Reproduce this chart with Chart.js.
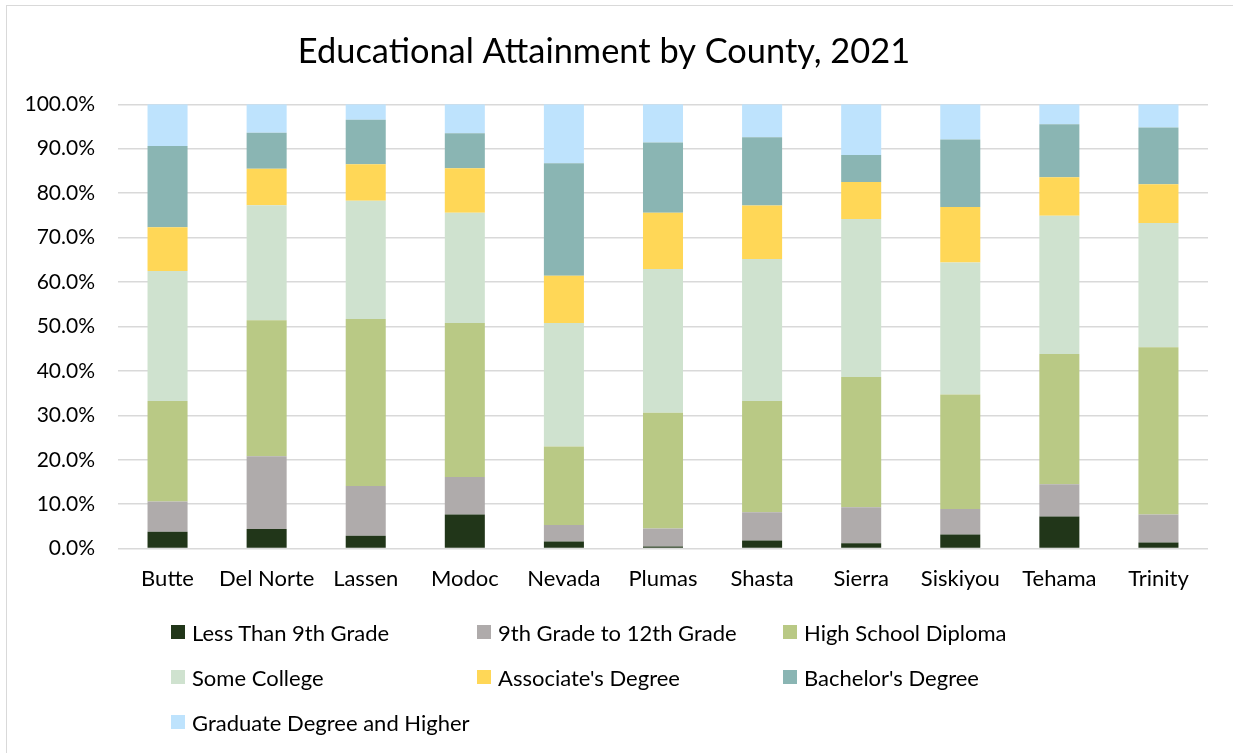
<!DOCTYPE html>
<html>
<head>
<meta charset="utf-8">
<script src="https://cdn.jsdelivr.net/npm/chart.js@4/dist/chart.umd.min.js"></script>
<style>
  html, body { margin: 0; padding: 0; background: #fff; }
  #wrap { position: relative; width: 1233px; height: 753px; overflow: hidden; }
  #frame { position: absolute; left: 6px; top: 5px; width: 1240px; height: 760px; border: 1px solid #d9d9d9; box-sizing: border-box; }
  #edu-chart { position: absolute; left: 0; top: 0; }
  #legend { position: absolute; left: 0; top: 0; font-family: Lato, sans-serif; font-size: 22px; color: #000; }
  .item { position: absolute; display: flex; align-items: center; white-space: nowrap; height: 26px; }
  .box { width: 14px; height: 14px; margin-right: 7px; }
</style>
</head>
<body>
<div id="wrap">
  <div id="frame"></div>
  <canvas id="edu-chart" width="1233" height="753"></canvas>
  <div id="legend"></div>
</div>
<script>
let counties = ["Butte", "Del Norte", "Lassen", "Modoc", "Nevada", "Plumas", "Shasta", "Sierra", "Siskiyou", "Tehama", "Trinity"];

let lessThan9th = [3.8, 4.4, 2.9, 7.7, 1.6, 0.5, 1.8, 1.2, 3.2, 7.2, 1.4];
let grade9to12 = [6.8, 16.4, 11.2, 8.4, 3.7, 4.0, 6.4, 8.1, 5.7, 7.3, 6.3];
let highSchool = [22.6, 30.6, 37.6, 34.7, 17.7, 26.1, 25.0, 29.3, 25.8, 29.3, 37.6];
let someCollege = [29.3, 25.9, 26.6, 24.8, 27.8, 32.3, 32.0, 35.6, 29.7, 31.1, 28.0];
let associates = [9.8, 8.2, 8.2, 10.0, 10.6, 12.7, 12.0, 8.3, 12.5, 8.7, 8.7];
let bachelors = [18.3, 8.1, 10.0, 7.9, 25.3, 15.8, 15.4, 6.1, 15.2, 11.9, 12.8];
let graduate = [9.4, 6.4, 3.5, 6.5, 13.3, 8.6, 7.4, 11.4, 7.9, 4.5, 5.2];

let seriesNames = [
  "Less Than 9th Grade",
  "9th Grade to 12th Grade",
  "High School Diploma",
  "Some College",
  "Associate's Degree",
  "Bachelor's Degree",
  "Graduate Degree and Higher",
];
let seriesValues = [lessThan9th, grade9to12, highSchool, someCollege, associates, bachelors, graduate];
let seriesColors = ["#213619", "#afabab", "#b9c985", "#cfe2cf", "#ffd757", "#8ab5b3", "#bee3fd"];

let yTicks = [0, 10, 20, 30, 40, 50, 60, 70, 80, 90, 100];

let datasets = seriesNames.map((name, i) => ({
  label: name,
  data: seriesValues[i],
  backgroundColor: seriesColors[i],
  borderWidth: 0,
  barPercentage: 0.404,
  categoryPercentage: 1,
}));

let eduChart = new Chart("edu-chart", {
  type: "bar",
  data: {
    labels: counties,
    datasets: datasets,
  },
  options: {
    responsive: false,
    animation: false,
    layout: {
      padding: { top: 31, right: 25, bottom: 152, left: 0 },
    },
    plugins: {
      legend: { display: false },
      tooltip: { enabled: false },
      title: {
        display: true,
        text: "Educational Attainment by County, 2021",
        color: "#000",
        font: { family: "Lato", size: 34.4, weight: "normal" },
        padding: { top: 0, bottom: 32 },
      },
    },
    scales: {
      x: {
        stacked: true,
        grid: { display: false },
        border: { display: false },
        ticks: {
          color: "#000",
          font: { family: "Lato", size: 22 },
          padding: 9,
          maxRotation: 0,
          autoSkip: false,
        },
      },
      y: {
        stacked: true,
        min: 0,
        max: 100,
        afterFit: (scale) => {
          scale.width = 118;
        },
        afterBuildTicks: (scale) => {
          scale.ticks = yTicks.map((v) => ({ value: v }));
        },
        grid: {
          color: "#d9d9d9",
          lineWidth: 1.5,
          drawTicks: false,
        },
        border: { display: false },
        ticks: {
          color: "#000",
          font: { family: "Lato", size: 21 },
          padding: 23,
          callback: (v) => v.toFixed(1) + "%",
        },
      },
    },
  },
});

// legend laid out in three columns like the original
let legend = document.getElementById("legend");
let colX = [171, 477, 783];
let rowY = [632, 677, 722];
eduChart.data.datasets.forEach((ds, i) => {
  let item = document.createElement("div");
  item.className = "item";
  item.style.left = colX[i % 3] + "px";
  item.style.top = rowY[Math.floor(i / 3)] - 13 + "px";
  item.innerHTML = `<span class="box" style="background:${ds.backgroundColor}"></span><span>${ds.label}</span>`;
  legend.appendChild(item);
});
</script>
</body>
</html>
